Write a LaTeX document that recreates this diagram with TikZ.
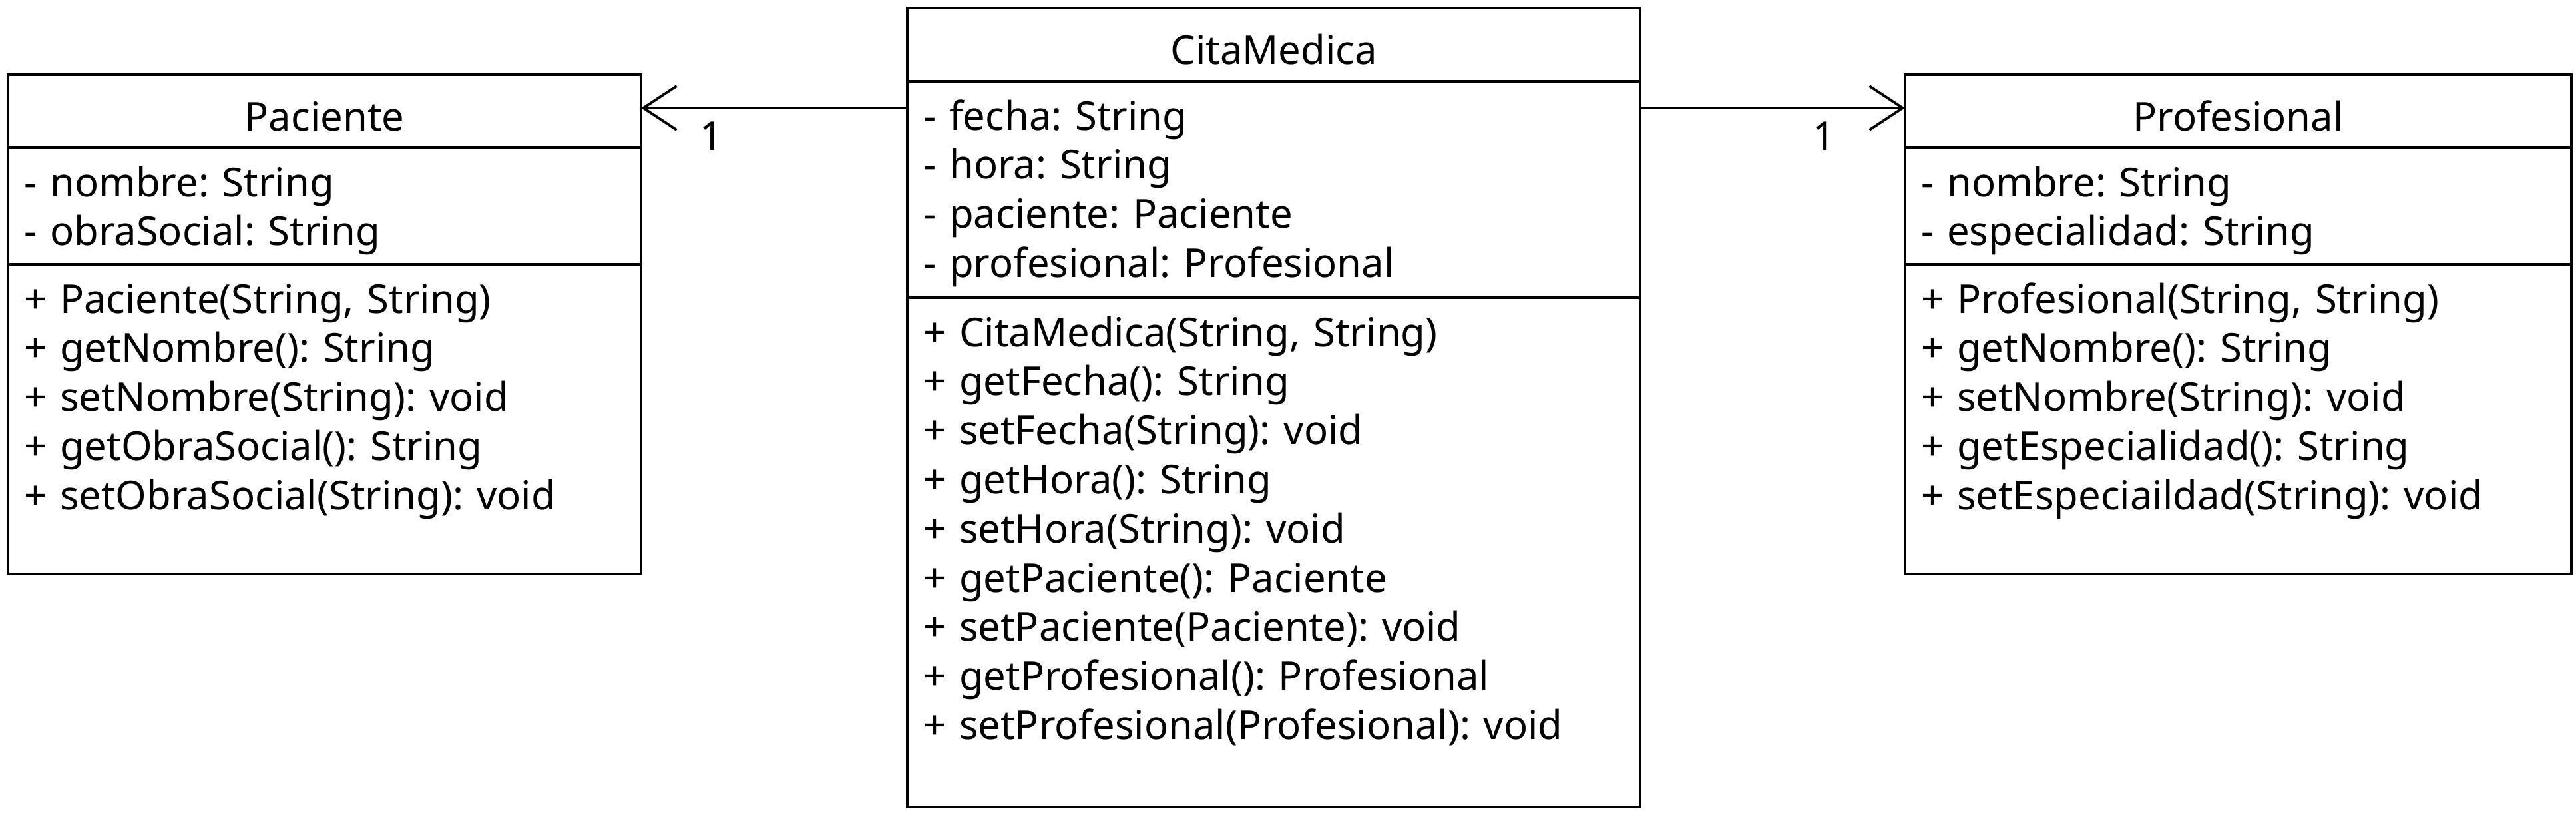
\documentclass[tikz,border=0pt]{standalone}
\usepackage{fontspec}
\setmainfont{Noto Sans}
\usetikzlibrary{positioning,arrows.meta}
\frenchspacing

\begin{document}
\begin{tikzpicture}[
      font=\fontsize{17}{21}\selectfont,
      line width=1.1pt,
      ctitle/.style={
        draw,
        rectangle,
        anchor=north west,
        outer sep=0pt,
        inner sep=0pt,
        minimum height=1.10cm,
        text height=0.6cm,
        text depth=0.02cm
      },
      cbox/.style={
        draw,
        rectangle,
        outer sep=0pt,
        align=left,
        inner xsep=0.24cm,
        inner ysep=0.23cm,
        text height=0.5cm
      },
      mult/.style={
        anchor=base,
        inner sep=0pt
      },
      assoc/.style={
        -{Straight Barb[length=0.5cm, width=0.66cm]}
      }
      ]
        \useasboundingbox (0,0) rectangle (38.7,-12.2);

        % Paciente
        \node[ctitle, minimum width=9.51cm] (pacTitle) at (0.12,-1.12) {Paciente};
        \node[cbox, text width=9.03cm, text depth=0.79cm, below=0pt of pacTitle] (pacAttr) {
            - nombre: String \\
            - obraSocial: String
        };
        \node[cbox, text width=9.03cm, text depth=3.69cm, below=0pt of pacAttr] (pacOps) {
            + Paciente(String, String) \\
            + getNombre(): String \\
            + setNombre(String): void \\
            + getObraSocial(): String \\
            + setObraSocial(String): void
        };

        % CitaMedica
        \node[ctitle, minimum width=11.01cm] (citaTitle) at (13.63,-0.12) {CitaMedica};
        \node[cbox, text width=10.53cm, text depth=2.29cm, below=0pt of citaTitle] (citaAttr) {
            - fecha: String \\
            - hora: String \\
            - paciente: Paciente \\
            - profesional: Profesional
        };
        \node[cbox, text width=10.53cm, text depth=6.69cm, below=0pt of citaAttr] (citaOps) {
            + CitaMedica(String, String) \\
            + getFecha(): String \\
            + setFecha(String): void \\
            + getHora(): String \\
            + setHora(String): void \\
            + getPaciente(): Paciente \\
            + setPaciente(Paciente): void \\
            + getProfesional(): Profesional \\
            + setProfesional(Profesional): void
        };

        % Profesional
        \node[ctitle, minimum width=10.01cm] (profTitle) at (28.62,-1.12) {Profesional};
        \node[cbox, text width=9.53cm, text depth=0.79cm, below=0pt of profTitle] (profAttr) {
            - nombre: String \\
            - especialidad: String
        };
        \node[cbox, text width=9.53cm, text depth=3.69cm, below=0pt of profAttr] (profOps) {
            + Profesional(String, String) \\
            + getNombre(): String \\
            + setNombre(String): void \\
            + getEspecialidad(): String \\
            + setEspeciaildad(String): void
        };

        % Asociaciones
        \coordinate (pacEnd) at ([yshift=0.05cm]pacTitle.east);
        \coordinate (profEnd) at ([yshift=0.05cm]profTitle.west);
        \draw[assoc] (pacEnd -| citaAttr.west) -- (pacEnd);
        \draw[assoc] (profEnd -| citaAttr.east) -- (profEnd);
        \node[mult] (multPac) at ([xshift=1.06cm, yshift=-0.63cm]pacEnd) {1};
        \node[mult] (multProf) at ([xshift=-1.21cm, yshift=-0.63cm]profEnd) {1};
    \end{tikzpicture}
\end{document}
